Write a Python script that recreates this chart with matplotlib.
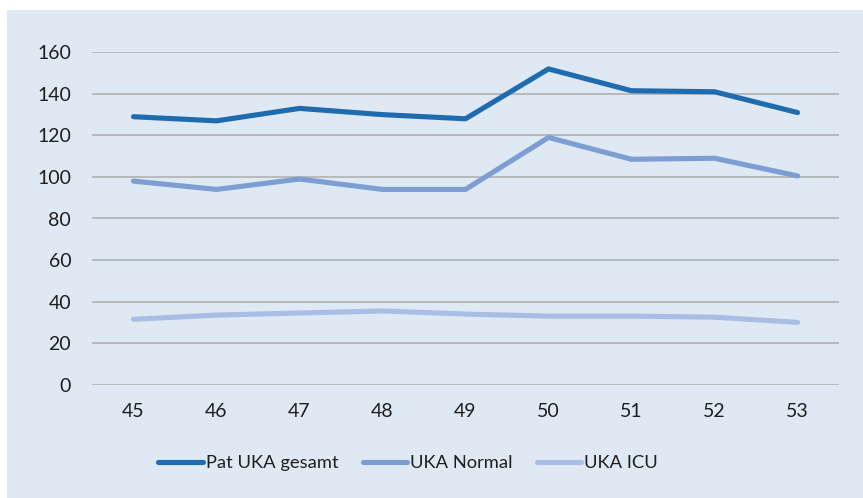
import matplotlib
matplotlib.use("Agg")
import matplotlib.pyplot as plt
from matplotlib.patches import Rectangle
from matplotlib.lines import Line2D

weeks = ["45", "46", "47", "48", "49", "50", "51", "52", "53"]
pat_uka_gesamt = [129, 127, 133, 130, 128, 152, 141.5, 141, 131]
uka_normal = [98, 94, 99, 94, 94, 119, 108.5, 109, 100.5]
uka_icu = [31.5, 33.5, 34.5, 35.5, 34, 33, 33, 32.5, 30]
series_names = ["Pat UKA gesamt", "UKA Normal", "UKA ICU"]
yticks = [0, 20, 40, 60, 80, 100, 120, 140, 160]

bg = "#DFE9F4"
colors = ["#1F6BAF", "#7C9ED2", "#AABDE6"]

plt.rcParams["font.family"] = ["Lato", "DejaVu Sans"]

W, H = 863, 498
fig = plt.figure(figsize=(W / 100, H / 100), dpi=100)
fig.patch.set_facecolor("white")
fig.patches.append(Rectangle((7 / W, 0), 1 - 7 / W, 1 - 10 / H,
                             transform=fig.transFigure, facecolor=bg,
                             edgecolor="none", zorder=-5))

left, right = 92 / W, 839 / W
bottom, top = 1 - 384.7 / H, 1 - 52.3 / H
ax = fig.add_axes([left, bottom, right - left, top - bottom])
ax.set_zorder(1)
ax.set_facecolor("none")

x = list(range(len(weeks)))
for vals, c, name in zip([pat_uka_gesamt, uka_normal, uka_icu], colors, series_names):
    ax.plot(x, vals, color=c, lw=3.7, solid_capstyle="round",
            solid_joinstyle="round", label=name, zorder=3)

ax.set_xlim(-0.5, len(weeks) - 0.5)
ax.set_ylim(0, 160)
ax.set_yticks(yticks)
ax.set_xticks(x)
ax.set_xticklabels(weeks)
ax.yaxis.grid(True, color="#B5B5B5", lw=1.3)
ax.set_axisbelow(True)
for s in ax.spines.values():
    s.set_visible(False)
ax.tick_params(axis="both", length=0, labelsize=14, colors="#1E1E1E")
ax.tick_params(axis="y", pad=15)
ax.tick_params(axis="x", pad=13)

handles = [Line2D([0], [0], color=c, lw=3.7, solid_capstyle="round") for c in colors]
leg = fig.legend(handles, series_names, loc="center", bbox_to_anchor=(0.473, 1 - 463 / H),
                 ncol=3, frameon=False, fontsize=13.2, handlelength=2.45,
                 handletextpad=0.15, columnspacing=1.3, labelcolor="#1E1E1E")
leg.set_zorder(2)

fig.savefig("out.png", dpi=100, facecolor=fig.get_facecolor())
